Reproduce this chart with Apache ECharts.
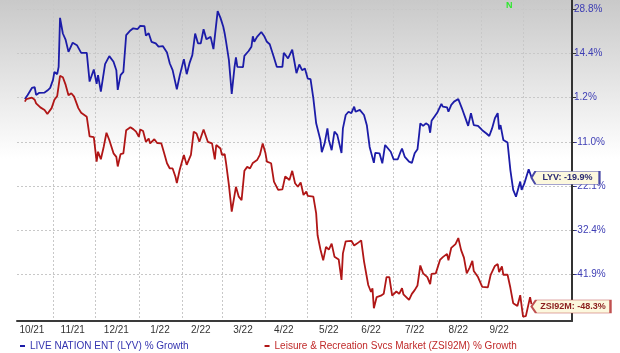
<!DOCTYPE html>
<html>
<head>
<meta charset="utf-8">
<script src="https://cdn.jsdelivr.net/npm/echarts@6/dist/echarts.min.js"></script>
<style>
html,body{margin:0;padding:0;background:#fff;}
#chart{width:620px;height:353px;}
</style>
</head>
<body>
<div id="chart"></div>
<script>
// tick labels of the right axis, bottom to top (they sit on equally spaced lines)
var yTicks = [-41.9, -32.4, -22.1, -11.0, 1.2, 14.4, 28.8];
// month boundaries (grid lines) and month labels (mid month)
var monthStarts = ['2021-11-01','2021-12-01','2022-01-01','2022-02-01','2022-03-01','2022-04-01',
	'2022-05-01','2022-06-01','2022-07-01','2022-08-01','2022-09-01','2022-10-01'];
var monthLabels = ['2021-10-17','2021-11-15','2021-12-16','2022-01-16','2022-02-14','2022-03-16',
	'2022-04-14','2022-05-16','2022-06-15','2022-07-16','2022-08-16','2022-09-14'];

// LIVE NATION ENT (LYV) % growth
var lyvDates = ['2021-10-12','2021-10-14','2021-10-17','2021-10-19','2021-10-20','2021-10-22','2021-10-26','2021-10-28','2021-10-30',
	'2021-11-01','2021-11-02','2021-11-04','2021-11-05','2021-11-06','2021-11-08','2021-11-10','2021-11-12','2021-11-15','2021-11-18',
	'2021-11-21','2021-11-25','2021-11-27','2021-11-30','2021-12-02','2021-12-03','2021-12-05','2021-12-08','2021-12-11','2021-12-14',
	'2021-12-16','2021-12-17','2021-12-19','2021-12-21','2021-12-23','2021-12-26','2021-12-28','2021-12-31','2022-01-02','2022-01-05',
	'2022-01-06','2022-01-08','2022-01-10','2022-01-13','2022-01-15','2022-01-18','2022-01-21','2022-01-23','2022-01-25','2022-01-28',
	'2022-01-30','2022-02-02','2022-02-04','2022-02-06','2022-02-08','2022-02-10','2022-02-12','2022-02-14','2022-02-16','2022-02-18',
	'2022-02-21','2022-02-22','2022-02-23','2022-02-26','2022-02-28','2022-03-02','2022-03-03','2022-03-04','2022-03-06','2022-03-08',
	'2022-03-10','2022-03-11','2022-03-12','2022-03-16','2022-03-17','2022-03-20','2022-03-22','2022-03-23','2022-03-24','2022-03-26',
	'2022-03-29','2022-03-31','2022-04-02','2022-04-04','2022-04-07','2022-04-09','2022-04-13','2022-04-14','2022-04-17','2022-04-20',
	'2022-04-23','2022-04-25','2022-04-27','2022-04-29','2022-05-01','2022-05-03','2022-05-05','2022-05-07','2022-05-10','2022-05-11',
	'2022-05-13','2022-05-15','2022-05-16','2022-05-18','2022-05-20','2022-05-22','2022-05-23','2022-05-25','2022-05-26','2022-05-28',
	'2022-05-30','2022-06-01','2022-06-03','2022-06-04','2022-06-07','2022-06-10','2022-06-12','2022-06-14','2022-06-15','2022-06-17',
	'2022-06-18','2022-06-21','2022-06-23','2022-06-25','2022-06-29','2022-07-01','2022-07-04','2022-07-06','2022-07-07','2022-07-09',
	'2022-07-12','2022-07-14','2022-07-16','2022-07-18','2022-07-19','2022-07-20','2022-07-22','2022-07-24','2022-07-26','2022-07-27',
	'2022-07-28','2022-07-30','2022-08-01','2022-08-04','2022-08-05','2022-08-08','2022-08-09','2022-08-11','2022-08-13','2022-08-16',
	'2022-08-19','2022-08-21','2022-08-23','2022-08-25','2022-08-27','2022-08-30','2022-09-02','2022-09-05','2022-09-07','2022-09-09',
	'2022-09-11','2022-09-13','2022-09-14','2022-09-15','2022-09-17','2022-09-20','2022-09-21','2022-09-22','2022-09-24','2022-09-26',
	'2022-09-29','2022-09-30','2022-10-02','2022-10-05','2022-10-07'];
var lyvGrowth = [0.8,2.0,4.1,4.3,2.0,2.6,2.7,3.3,4.1,
	6.5,8.9,8.2,10.4,26.0,20.9,18.8,14.9,17.9,17.1,
	14.6,14.6,6.0,9.6,5.3,7.9,3.0,11.2,13.6,11.9,
	9.4,3.5,7.9,8.9,20.4,21.9,22.6,22.3,23.4,23.3,
	20.2,21.0,18.2,17.7,16.6,16.8,14.7,11.4,9.4,3.7,
	7.7,12.7,8.2,11.5,13.9,20.9,17.7,17.7,22.3,19.0,
	19.8,19.3,15.8,28.2,26.0,23.1,20.9,18.2,12.4,2.3,
	10.4,13.2,10.4,10.3,13.7,15.2,16.6,20.0,18.2,19.8,
	21.4,20.1,18.2,17.4,13.2,10.4,10.4,14.6,12.9,15.6,
	8.5,11.1,9.4,9.9,6.9,6.7,1.0,-5.9,-10.5,-13.6,
	-11.4,-7.3,-10.5,-13.1,-8.2,-9.1,-8.7,-13.8,-7.3,-3.6,
	-2.7,-3.1,-1.3,-2.7,-2.2,-3.6,-6.4,-12.3,-11.8,-16.3,
	-13.8,-13.9,-16.4,-11.8,-13.5,-15.4,-15.4,-13.5,-12.7,-14.8,
	-16.0,-16.3,-13.9,-12.9,-9.6,-5.9,-6.6,-5.9,-6.4,-8.5,
	-5.2,-4.1,-3.0,-0.5,-1.3,-1.5,-2.7,-0.8,0.1,0.8,
	-2.2,-4.4,-6.6,-3.1,-6.4,-6.6,-7.8,-8.7,-9.4,-7.3,
	-4.5,-3.1,-7.6,-6.4,-10.5,-11.2,-11.6,-18.1,-23.0,-24.6,
	-21.0,-23.0,-21.4,-17.9,-19.9];

// Leisure & Recreation Svcs Market (ZSI92M) % growth
var zsiDates = ['2021-10-12','2021-10-13','2021-10-17','2021-10-19','2021-10-20','2021-10-23','2021-10-26','2021-10-28','2021-10-31',
	'2021-11-02','2021-11-04','2021-11-05','2021-11-06','2021-11-08','2021-11-10','2021-11-12','2021-11-14','2021-11-16','2021-11-19',
	'2021-11-21','2021-11-25','2021-11-27','2021-11-30','2021-12-02','2021-12-03','2021-12-05','2021-12-07','2021-12-09','2021-12-11',
	'2021-12-14','2021-12-16','2021-12-17','2021-12-19','2021-12-21','2021-12-23','2021-12-26','2021-12-28','2021-12-30','2022-01-01',
	'2022-01-02','2022-01-04','2022-01-06','2022-01-08','2022-01-09','2022-01-12','2022-01-14','2022-01-17','2022-01-19','2022-01-21',
	'2022-01-23','2022-01-25','2022-01-27','2022-01-28','2022-01-30','2022-02-02','2022-02-04','2022-02-07','2022-02-09','2022-02-11',
	'2022-02-13','2022-02-14','2022-02-16','2022-02-19','2022-02-22','2022-02-24','2022-02-25','2022-02-28','2022-03-01','2022-03-03',
	'2022-03-04','2022-03-06','2022-03-08','2022-03-11','2022-03-13','2022-03-15','2022-03-17','2022-03-19','2022-03-21','2022-03-23',
	'2022-03-24','2022-03-26','2022-03-28','2022-03-30','2022-04-01','2022-04-02','2022-04-05','2022-04-07','2022-04-10','2022-04-13',
	'2022-04-15','2022-04-18','2022-04-20','2022-04-22','2022-04-24','2022-04-26','2022-04-28','2022-04-30','2022-05-01','2022-05-05',
	'2022-05-07','2022-05-08','2022-05-10','2022-05-12','2022-05-14','2022-05-16','2022-05-18','2022-05-20','2022-05-23','2022-05-25',
	'2022-05-26','2022-05-28','2022-06-01','2022-06-03','2022-06-05','2022-06-08','2022-06-10','2022-06-13','2022-06-15','2022-06-16',
	'2022-06-17','2022-06-19','2022-06-22','2022-06-24','2022-06-26','2022-06-28','2022-06-30','2022-07-03','2022-07-05','2022-07-07',
	'2022-07-08','2022-07-12','2022-07-14','2022-07-16','2022-07-18','2022-07-20','2022-07-22','2022-07-25','2022-07-27','2022-07-28',
	'2022-07-31','2022-08-03','2022-08-05','2022-08-08','2022-08-09','2022-08-11','2022-08-14','2022-08-16','2022-08-18','2022-08-20',
	'2022-08-22','2022-08-24','2022-08-26','2022-08-27','2022-08-30','2022-09-02','2022-09-06','2022-09-08','2022-09-11','2022-09-13',
	'2022-09-14','2022-09-16','2022-09-17','2022-09-20','2022-09-22','2022-09-24','2022-09-27','2022-09-29','2022-10-01','2022-10-03',
	'2022-10-06','2022-10-07'];
var zsiGrowth = [0.1,0.8,1.2,0.6,-0.4,-1.5,-2.2,-3.3,-1.7,
	0.6,1.7,1.3,7.7,7.3,5.0,1.9,2.5,1.5,-1.7,
	-3.0,-4.1,-9.5,-9.7,-16.0,-13.5,-15.4,-12.3,-8.5,-10.5,
	-13.9,-14.8,-17.2,-14.1,-13.9,-7.8,-7.0,-7.5,-8.2,-9.6,
	-7.6,-8.0,-11.0,-10.1,-11.4,-10.3,-11.3,-11.4,-13.9,-16.4,
	-17.7,-17.7,-19.8,-21.4,-18.1,-14.3,-16.8,-14.3,-8.2,-8.7,
	-11.0,-11.3,-7.6,-11.0,-11.4,-15.4,-11.8,-12.7,-14.3,-14.1,
	-16.4,-21.9,-28.1,-22.3,-24.6,-25.4,-18.3,-17.3,-17.7,-16.3,
	-16.4,-15.6,-14.3,-11.4,-13.9,-16.0,-16.4,-21.0,-23.0,-22.9,
	-19.7,-20.6,-18.3,-21.4,-22.3,-21.2,-24.2,-23.4,-24.4,-24.6,
	-28.5,-33.5,-36.5,-38.9,-36.0,-36.6,-35.3,-38.1,-38.7,-43.1,
	-37.4,-34.8,-34.7,-35.7,-35.3,-34.6,-39.1,-44.2,-45.7,-44.9,
	-49.2,-46.8,-46.5,-46.1,-42.5,-42.5,-46.5,-45.6,-46.1,-44.9,
	-46.2,-47.4,-46.1,-45.3,-44.3,-40.0,-41.7,-42.5,-44.0,-41.8,
	-41.7,-38.8,-38.2,-37.5,-38.9,-36.2,-35.4,-34.1,-36.7,-38.3,
	-41.7,-40.5,-39.0,-41.2,-42.5,-44.6,-44.7,-42.0,-40.1,-39.7,
	-41.4,-40.2,-42.0,-42.0,-44.8,-48.1,-48.7,-46.4,-51.0,-50.9,
	-46.8,-48.3];

var blue = '#1c1ca8';
var red = '#b01616';

//日期字符串转时间戳
function ts(s)
{
	return echarts.time.parse(s).getTime();
}
// the axis is drawn in tick-line units: each labelled line is one unit apart,
// a % value is placed between its two neighbouring tick labels
function toPos(p)
{
	var n = yTicks.length;
	var i = 0;
	if(p <= yTicks[0]) i = 0;
	else if(p >= yTicks[n-1]) i = n-2;
	else
	{
		while(i < n-2 && p > yTicks[i+1]) i++;
	}
	return i + (p - yTicks[i]) / (yTicks[i+1] - yTicks[i]);
}
function buildData(dates, values)
{
	var data = [];
	for(var i=0;i<dates.length;i++)
	{
		data.push([ts(dates[i]), toPos(values[i])]);
	}
	return data;
}
function pct(v)
{
	return v.toFixed(1) + '%';
}
//最后一个点的标签（左边带尖角的小框）
function endTag(text, size, offset, border, textColor)
{
	return {
		z: 10,
		symbol: 'path://M0,5L4,0L70,0L70,10L4,10Z',
		symbolSize: size,
		symbolKeepAspect: false,
		symbolOffset: offset,
		itemStyle: {color: '#fcf8de', borderColor: border, borderWidth: 1},
		label: {
			show: true, position: 'inside', offset: [2, 0],
			color: textColor, fontSize: 9, fontWeight: 'bold', fontFamily: font,
			formatter: function(){ return text; }
		},
		data: []
	};
}

var lyvData = buildData(lyvDates, lyvGrowth);
var zsiData = buildData(zsiDates, zsiGrowth);
var tickPos = [];
for(var k=0;k<yTicks.length;k++) tickPos.push(k);

var myChart = echarts.init(document.getElementById('chart'));
var font = 'Liberation Sans, Arial, sans-serif';

var lyvTag = endTag('LYV: ' + pct(lyvGrowth[lyvGrowth.length-1]), [68, 13], [34, 0.5], '#4a4aa6', '#2a2a72');
lyvTag.data.push({coord: lyvData[lyvData.length-1]});
var zsiTag = endTag('ZSI92M: ' + pct(zsiGrowth[zsiGrowth.length-1]), [79, 13], [39.5, 2.5], '#c05050', '#8a1c1c');
zsiTag.data.push({coord: zsiData[zsiData.length-1]});

var option = {
	animation: false,
	backgroundColor: {
		type: 'linear', x: 0, y: 0, x2: 0, y2: 1,
		colorStops: [{offset: 0, color: '#c9c9c9'}, {offset: 0.45, color: '#ffffff'}, {offset: 1, color: '#ffffff'}]
	},
	grid: {left: 17, right: 48, top: 0, bottom: 32, outerBoundsMode: 'none'},
	legend: {
		left: 15, top: 336, itemGap: 76, itemWidth: 5, itemHeight: 2, icon: 'rect',
		textStyle: {fontSize: 10, fontFamily: font},
		data: [
			{name: 'LIVE NATION ENT (LYV) % Growth', textStyle: {color: '#3434b0'}},
			{name: 'Leisure & Recreation Svcs Market (ZSI92M) % Growth', textStyle: {color: '#c02a2a'}}
		]
	},
	//x轴用时间戳数值，月初画分隔线，月中放标签
	xAxis: {
		type: 'value',
		min: ts('2021-10-06 10:00:00'),
		max: ts('2022-11-04 19:00:00'),
		axisLine: {show: true, onZero: false, lineStyle: {color: '#3a3a3a', width: 2}},
		axisTick: {show: false, customValues: monthStarts.map(ts)},
		splitLine: {show: true, lineStyle: {color: '#c8c8c8', type: [2, 2], width: 1}},
		axisLabel: {
			customValues: monthLabels.map(ts),
			color: '#333', fontSize: 10, fontFamily: font, margin: 4,
			formatter: function(v){
				var d = new Date(v);
				return (d.getMonth()+1) + '/' + String(d.getFullYear()).slice(2);
			}
		}
	},
	yAxis: {
		type: 'value',
		position: 'right',
		min: -1.057,
		max: 6.21,
		axisLine: {show: true, onZero: false, lineStyle: {color: '#333', width: 2}},
		axisTick: {show: true, length: 4, customValues: tickPos, lineStyle: {color: '#333'}},
		splitLine: {show: true, lineStyle: {color: '#c8c8c8', type: [2, 2], width: 1}},
		axisLabel: {
			customValues: tickPos,
			color: '#3d3db4', fontSize: 10, fontFamily: font, margin: 2,
			formatter: function(v){
				return pct(yTicks[Math.round(v)]);
			}
		}
	},
	graphic: [
		{type: 'text', left: 506, top: 1, style: {text: 'N', fill: '#2ee82e', font: 'bold 9px ' + font}}
	],
	series: [
		{
			name: 'LIVE NATION ENT (LYV) % Growth',
			type: 'line',
			data: lyvData,
			showSymbol: false,
			color: blue,
			lineStyle: {color: blue, width: 1.8},
			z: 3,
			markPoint: lyvTag
		},
		{
			name: 'Leisure & Recreation Svcs Market (ZSI92M) % Growth',
			type: 'line',
			data: zsiData,
			showSymbol: false,
			color: red,
			lineStyle: {color: red, width: 1.8},
			z: 3,
			markPoint: zsiTag
		}
	]
};
myChart.setOption(option);
</script>
</body>
</html>
